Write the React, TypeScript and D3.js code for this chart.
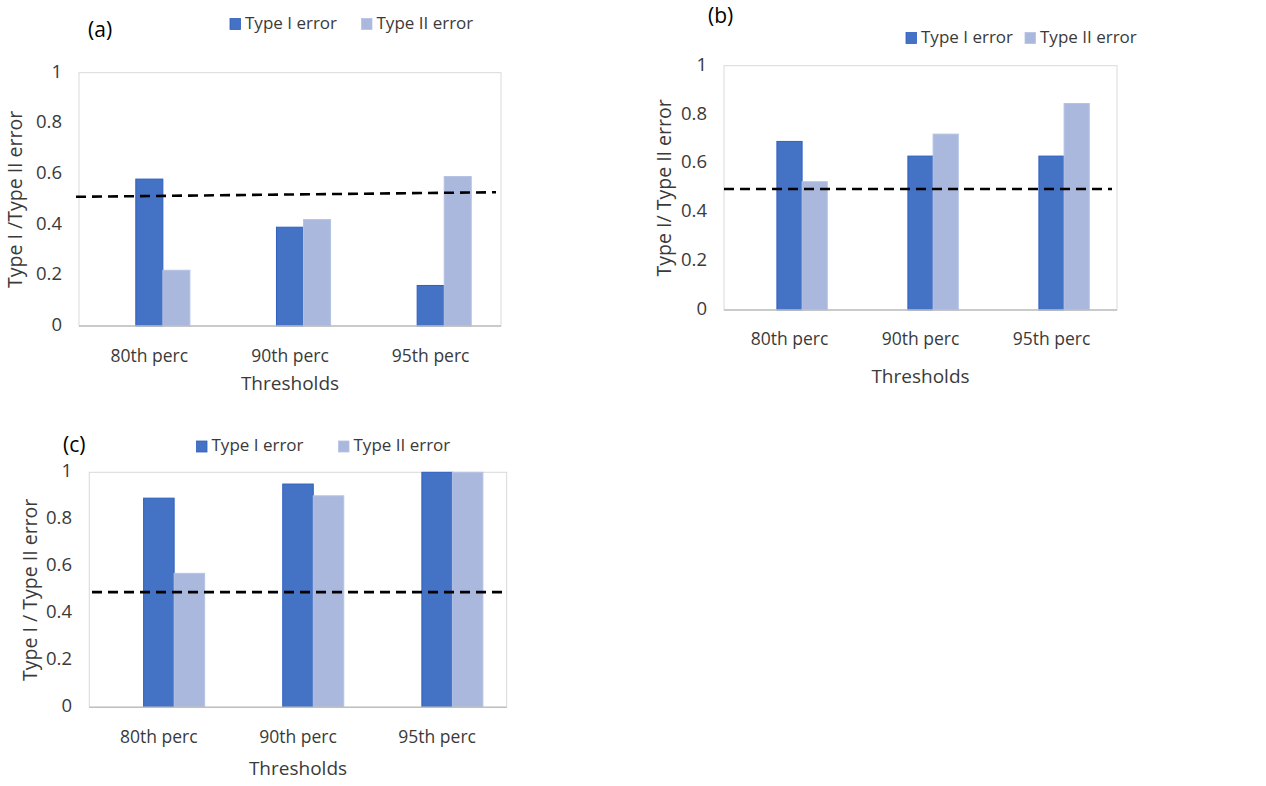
import React from "react";
import * as d3 from "d3";

const categories = ["80th perc", "90th perc", "95th perc"];
const seriesNames = ["Type I error", "Type II error"];
const yTicks = [0, 0.2, 0.4, 0.6, 0.8, 1];

const typeIA = [0.58, 0.39, 0.16];
const typeIIA = [0.22, 0.42, 0.59];
const cutoffA = [0.51, 0.528];

const typeIB = [0.69, 0.63, 0.63];
const typeIIB = [0.525, 0.72, 0.845];
const cutoffB = [0.495, 0.495];

const typeIC = [0.89, 0.95, 1.0];
const typeIIC = [0.57, 0.9, 1.0];
const cutoffC = [0.49, 0.49];

const COLORS = ["#4472C4", "#A9B8DC"];
const STROKES = ["#2F5FBF", "#B4C2E3"];
const TEXT = "#3A3A3A";
const FONT = "'Open Sans', 'Noto Sans', sans-serif";

type PanelProps = {
  letter: string;
  typeI: number[];
  typeII: number[];
  cutoff: number[];
  yTitle: string;
  left: number;
  right: number;
  top: number;
  bottom: number;
  groupPad: number;
  tickX: number;
  yTitleX: number;
  catY: number;
  titleY: number;
  cutX0: number;
  cutX1: number;
  letterX: number;
  letterY: number;
  legendX: number[];
  legendY: number;
};

function Panel(p: PanelProps) {
  const x = d3.scaleBand<string>().domain(categories).range([p.left, p.right]).padding(0);
  const sub = d3
    .scaleBand<string>()
    .domain(["", ...seriesNames])
    .range([0, x.bandwidth()])
    .paddingInner(0)
    .paddingOuter(p.groupPad);
  const y = d3.scaleLinear().domain([0, 1]).range([p.bottom, p.top]);
  const series = [p.typeI, p.typeII];
  const cut = d3.scaleLinear().domain([0, 1]).range([p.cutX0, p.cutX1]);
  const cutLine = d3
    .line<number>()
    .x((_, i) => cut(i / (p.cutoff.length - 1)))
    .y((v) => y(v));
  const midX = (p.left + p.right) / 2;
  const midY = (p.top + p.bottom) / 2;
  return (
    <g fontFamily={FONT} fill={TEXT}>
      <text x={p.letterX} y={p.letterY} fontSize={21} fill="#000" dominantBaseline="middle">
        ({p.letter})
      </text>
      {seriesNames.map((s, i) => (
        <g key={s}>
          <rect
            x={p.legendX[i]}
            y={p.legendY - 5.5}
            width={10.5}
            height={11}
            fill={COLORS[i]}
            stroke={STROKES[i]}
            strokeWidth={0.8}
          />
          <text x={p.legendX[i] + 15} y={p.legendY} fontSize={17} dominantBaseline="middle">
            {s}
          </text>
        </g>
      ))}
      <rect
        x={p.left}
        y={p.top}
        width={p.right - p.left}
        height={p.bottom - p.top}
        fill="none"
        stroke="#D9D9D9"
        strokeWidth={1}
      />
      {series.map((vals, si) =>
        vals.map((v, ci) => (
          <rect
            key={si + "-" + ci}
            x={(x(categories[ci]) as number) + (sub(seriesNames[si]) as number)}
            y={y(v)}
            width={sub.bandwidth()}
            height={y(0) - y(v)}
            fill={COLORS[si]}
            stroke={STROKES[si]}
            strokeWidth={1}
          />
        ))
      )}
      <line x1={p.left} x2={p.right} y1={p.bottom} y2={p.bottom} stroke="#BFBFBF" strokeWidth={1.5} />
      {yTicks.map((t) => (
        <text key={t} x={p.tickX} y={y(t)} fontSize={18.5} textAnchor="end" dominantBaseline="middle">
          {String(t)}
        </text>
      ))}
      {categories.map((c) => (
        <text
          key={c}
          x={(x(c) as number) + x.bandwidth() / 2}
          y={p.catY}
          fontSize={17.5}
          textAnchor="middle"
          dominantBaseline="middle"
        >
          {c}
        </text>
      ))}
      <text x={midX} y={p.titleY} fontSize={19} textAnchor="middle" dominantBaseline="middle">
        Thresholds
      </text>
      <text
        transform={`translate(${p.yTitleX},${midY}) rotate(-90)`}
        fontSize={19.5}
        textAnchor="middle"
        dominantBaseline="middle"
      >
        {p.yTitle}
      </text>
      <path
        d={cutLine(p.cutoff) || ""}
        fill="none"
        stroke="#000"
        strokeWidth={2.6}
        strokeDasharray="10,6"
      />
    </g>
  );
}

export default function App() {
  return (
    <svg
      width={1266}
      height={786}
      style={{ position: "absolute", left: 0, top: 0, background: "#fff" }}
    >
      <rect width={1266} height={786} fill="#fff" />
      <Panel
        letter="a"
        typeI={typeIA}
        typeII={typeIIA}
        cutoff={cutoffA}
        yTitle="Type I /Type II error"
        left={79}
        right={501}
        top={72.7}
        bottom={326}
        groupPad={1.1}
        tickX={62}
        yTitleX={17}
        catY={357}
        titleY={385}
        cutX0={76}
        cutX1={496}
        letterX={88}
        letterY={31}
        legendX={[230, 361.5]}
        legendY={24}
      />
      <Panel
        letter="b"
        typeI={typeIB}
        typeII={typeIIB}
        cutoff={cutoffB}
        yTitle="Type I/ Type II error"
        left={724}
        right={1117}
        top={65.7}
        bottom={310}
        groupPad={1.1}
        tickX={707}
        yTitleX={666}
        catY={340.5}
        titleY={378}
        cutX0={724}
        cutX1={1112}
        letterX={708}
        letterY={17}
        legendX={[906, 1025]}
        legendY={38}
      />
      <Panel
        letter="c"
        typeI={typeIC}
        typeII={typeIIC}
        cutoff={cutoffC}
        yTitle="Type I / Type II error"
        left={89.3}
        right={506.7}
        top={472.3}
        bottom={707.3}
        groupPad={0.78}
        tickX={72}
        yTitleX={32}
        catY={738}
        titleY={770}
        cutX0={92}
        cutX1={508}
        letterX={63}
        letterY={446.5}
        legendX={[196.5, 338.5]}
        legendY={446.5}
      />
    </svg>
  );
}
